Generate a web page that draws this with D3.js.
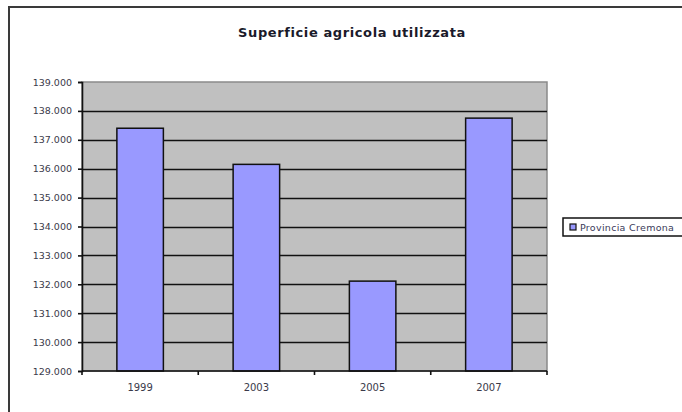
<!DOCTYPE html>
<html>
<head>
<meta charset="utf-8">
<script src="https://cdn.jsdelivr.net/npm/d3@7"></script>
<style>
  body { margin: 0; background: #fff; }
  svg { display: block; }
  text { font-family: "DejaVu Sans", Verdana, sans-serif; }
</style>
</head>
<body>
<div id="scene"></div>
<script>
// chart data
var years = ["1999", "2003", "2005", "2007"];
var values = [137400, 136150, 132110, 137750];
var yTicks = [129000, 130000, 131000, 132000, 133000, 134000, 135000, 136000, 137000, 138000, 139000];
var seriesName = "Provincia Cremona";
var chartTitle = "Superficie agricola utilizzata";

var ctx = {
  w: 682,
  h: 412,
  left: 82,
  right: 547,
  top: 82,
  bottom: 371
};

var svg = d3.select("#scene").append("svg")
  .attr("width", ctx.w)
  .attr("height", ctx.h);

// outer chart frame
svg.append("rect")
  .attr("x", 9).attr("y", 7)
  .attr("width", 700).attr("height", 420)
  .attr("fill", "#fff")
  .attr("stroke", "#3a3a3a")
  .attr("stroke-width", 2);

svg.append("text")
  .attr("x", 352).attr("y", 37)
  .attr("text-anchor", "middle")
  .attr("font-size", 13)
  .attr("font-weight", "bold")
  .attr("letter-spacing", 0.6)
  .attr("fill", "#1a1a2a")
  .text(chartTitle);

var x = d3.scaleBand()
  .domain(years)
  .range([ctx.left, ctx.right])
  .paddingInner(0.6)
  .paddingOuter(0.3);

var y = d3.scaleLinear()
  .domain([129000, 139000])
  .range([ctx.bottom, ctx.top]);

// plot area
svg.append("rect")
  .attr("x", ctx.left).attr("y", ctx.top)
  .attr("width", ctx.right - ctx.left)
  .attr("height", ctx.bottom - ctx.top)
  .attr("fill", "#c0c0c0")
  .attr("stroke", "#8a8a8a")
  .attr("stroke-width", 1.5);

// gridlines
svg.selectAll(".grid")
  .data(yTicks.slice(1, -1))
  .enter()
  .append("line")
  .attr("class", "grid")
  .attr("x1", ctx.left).attr("x2", ctx.right)
  .attr("y1", function (d) { return Math.round(y(d)) + 0.5; })
  .attr("y2", function (d) { return Math.round(y(d)) + 0.5; })
  .attr("stroke", "#111")
  .attr("stroke-width", 1.6);

// bars
svg.selectAll(".bar")
  .data(values)
  .enter()
  .append("rect")
  .attr("class", "bar")
  .attr("x", function (d, i) { return x(years[i]); })
  .attr("y", function (d) { return y(d); })
  .attr("width", x.bandwidth())
  .attr("height", function (d) { return ctx.bottom - y(d); })
  .attr("fill", "#9999ff")
  .attr("stroke", "#111")
  .attr("stroke-width", 1.5);

// y axis
var fmt = function (d) { return d3.format(",")(d).replace(/,/g, "."); };
var yAxis = svg.append("g")
  .attr("transform", "translate(" + ctx.left + ",0)")
  .call(d3.axisLeft(y).tickValues(yTicks).tickFormat(fmt).tickSize(4).tickPadding(6));
yAxis.select(".domain").attr("stroke", "#111").attr("stroke-width", 1.6);
yAxis.selectAll(".tick line").attr("stroke", "#111").attr("stroke-width", 1.6);
yAxis.selectAll("text")
  .attr("font-size", 9.5)
  .attr("fill", "#3a3a4a")
  .attr("font-family", "DejaVu Sans, Verdana, sans-serif");

// x axis, ticks sit between categories
var xAxis = svg.append("g")
  .attr("transform", "translate(0," + ctx.bottom + ")");
xAxis.append("line")
  .attr("x1", ctx.left).attr("x2", ctx.right)
  .attr("stroke", "#111").attr("stroke-width", 1.6);
var step = x.step();
xAxis.selectAll(".xtick")
  .data(d3.range(years.length + 1))
  .enter()
  .append("line")
  .attr("class", "xtick")
  .attr("x1", function (d) { return ctx.left + d * step; })
  .attr("x2", function (d) { return ctx.left + d * step; })
  .attr("y1", 0).attr("y2", 4)
  .attr("stroke", "#111").attr("stroke-width", 1.6);
xAxis.selectAll(".xlabel")
  .data(years)
  .enter()
  .append("text")
  .attr("class", "xlabel")
  .attr("x", function (d) { return x(d) + x.bandwidth() / 2; })
  .attr("y", 20)
  .attr("text-anchor", "middle")
  .attr("font-size", 10)
  .attr("fill", "#3a3a4a")
  .text(function (d) { return d; });

// legend
var legend = svg.append("g").attr("transform", "translate(563,218)");
legend.append("rect")
  .attr("x", 0).attr("y", 0)
  .attr("width", 140).attr("height", 18)
  .attr("fill", "#fff")
  .attr("stroke", "#111")
  .attr("stroke-width", 1.5);
legend.append("rect")
  .attr("x", 7).attr("y", 6)
  .attr("width", 6).attr("height", 6)
  .attr("fill", "#9999ff")
  .attr("stroke", "#111")
  .attr("stroke-width", 1.2);
legend.append("text")
  .attr("x", 17).attr("y", 12.5)
  .attr("font-size", 9.5)
  .attr("letter-spacing", 0.3)
  .attr("fill", "#3a3a5a")
  .text(seriesName);
</script>
</body>
</html>
